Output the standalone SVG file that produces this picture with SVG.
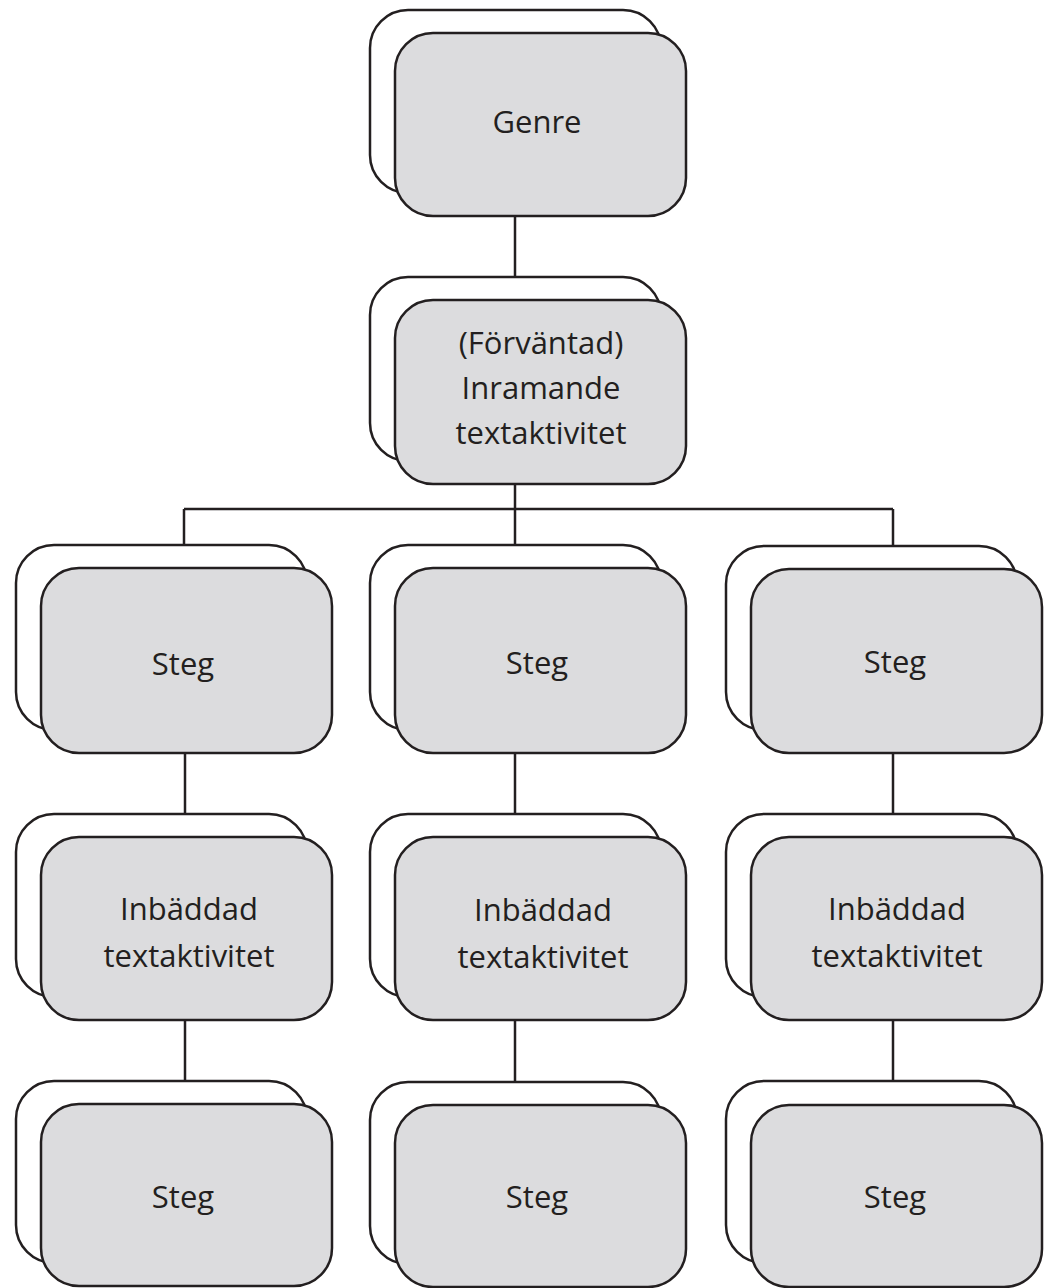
<svg xmlns="http://www.w3.org/2000/svg" width="1047" height="1288" viewBox="0 0 1047 1288">
  <style>
    .back { fill: #ffffff; stroke: #231f20; stroke-width: 2.5; }
    .front { fill: #dcdcde; stroke: #231f20; stroke-width: 2.5; }
    .lbl { font-family: "Open Sans", "Noto Sans", "Liberation Sans", sans-serif; font-size: 31px; fill: #231f20; text-anchor: middle; }
    .conn { fill: none; stroke: #231f20; stroke-width: 2.5; }
  </style>
  <rect width="1047" height="1288" fill="#ffffff"/>

  <!-- connectors -->
  <g id="connectors">
    <line class="conn" x1="515" y1="216" x2="515" y2="277"/>
    <line class="conn" x1="515" y1="484" x2="515" y2="545"/>
    <line class="conn" x1="184" y1="509" x2="893" y2="509"/>
    <line class="conn" x1="184" y1="509" x2="184" y2="545"/>
    <line class="conn" x1="893" y1="509" x2="893" y2="546"/>
    <line class="conn" x1="185" y1="753" x2="185" y2="814"/>
    <line class="conn" x1="515" y1="753" x2="515" y2="814"/>
    <line class="conn" x1="893" y1="753" x2="893" y2="814"/>
    <line class="conn" x1="185" y1="1020" x2="185" y2="1081"/>
    <line class="conn" x1="515" y1="1020" x2="515" y2="1082"/>
    <line class="conn" x1="893" y1="1020" x2="893" y2="1081"/>
  </g>

  <!-- top level -->
  <g id="genre">
    <rect class="back" x="370" y="10" width="291" height="183" rx="38"/>
    <rect class="front" x="395" y="33" width="291" height="183" rx="38"/>
    <text class="lbl" x="537" y="133">Genre</text>
  </g>

  <g id="inramande">
    <rect class="back" x="370" y="277" width="291" height="184" rx="38"/>
    <rect class="front" x="395" y="300" width="291" height="184" rx="38"/>
    <text class="lbl" x="541" y="354">(Förväntad)</text>
    <text class="lbl" x="541" y="399">Inramande</text>
    <text class="lbl" x="541" y="444">textaktivitet</text>
  </g>

  <!-- first steps -->
  <g id="steg-1a">
    <rect class="back" x="16" y="545" width="291" height="185" rx="38"/>
    <rect class="front" x="41" y="568" width="291" height="185" rx="38"/>
    <text class="lbl" x="183" y="675">Steg</text>
  </g>
  <g id="steg-2a">
    <rect class="back" x="370" y="545" width="291" height="185" rx="38"/>
    <rect class="front" x="395" y="568" width="291" height="185" rx="38"/>
    <text class="lbl" x="537" y="674">Steg</text>
  </g>
  <g id="steg-3a">
    <rect class="back" x="726" y="546" width="291" height="184" rx="38"/>
    <rect class="front" x="751" y="569" width="291" height="184" rx="38"/>
    <text class="lbl" x="895" y="673">Steg</text>
  </g>

  <!-- embedded text activities -->
  <g id="inbaddad-1">
    <rect class="back" x="16" y="814" width="291" height="183" rx="38"/>
    <rect class="front" x="41" y="837" width="291" height="183" rx="38"/>
    <text class="lbl" x="189" y="920">Inbäddad</text>
    <text class="lbl" x="189" y="967">textaktivitet</text>
  </g>
  <g id="inbaddad-2">
    <rect class="back" x="370" y="814" width="291" height="183" rx="38"/>
    <rect class="front" x="395" y="837" width="291" height="183" rx="38"/>
    <text class="lbl" x="543" y="921">Inbäddad</text>
    <text class="lbl" x="543" y="968">textaktivitet</text>
  </g>
  <g id="inbaddad-3">
    <rect class="back" x="726" y="814" width="291" height="183" rx="38"/>
    <rect class="front" x="751" y="837" width="291" height="183" rx="38"/>
    <text class="lbl" x="897" y="920">Inbäddad</text>
    <text class="lbl" x="897" y="967">textaktivitet</text>
  </g>

  <!-- second steps -->
  <g id="steg-1b">
    <rect class="back" x="16" y="1081" width="291" height="182" rx="38"/>
    <rect class="front" x="41" y="1104" width="291" height="182" rx="38"/>
    <text class="lbl" x="183" y="1208">Steg</text>
  </g>
  <g id="steg-2b">
    <rect class="back" x="370" y="1082" width="291" height="182" rx="38"/>
    <rect class="front" x="395" y="1105" width="291" height="182" rx="38"/>
    <text class="lbl" x="537" y="1208">Steg</text>
  </g>
  <g id="steg-3b">
    <rect class="back" x="726" y="1081" width="291" height="182" rx="38"/>
    <rect class="front" x="751" y="1105" width="291" height="182" rx="38"/>
    <text class="lbl" x="895" y="1208">Steg</text>
  </g>
</svg>
